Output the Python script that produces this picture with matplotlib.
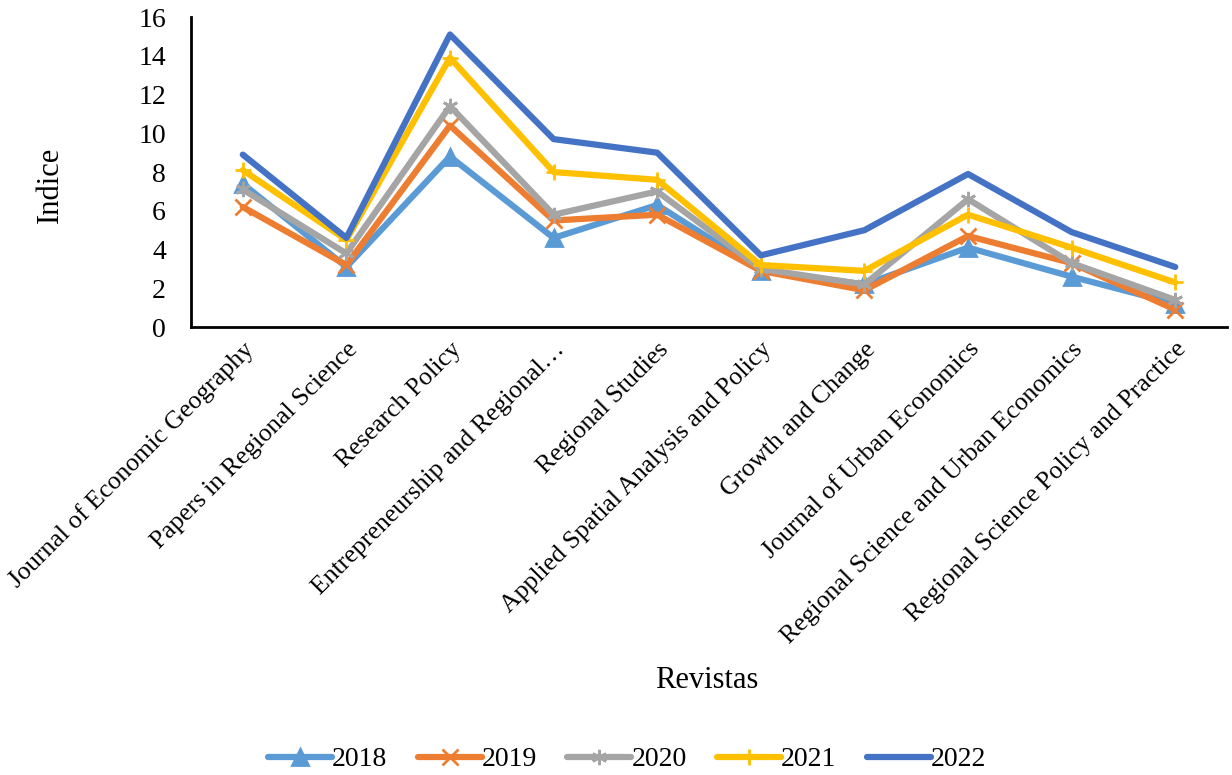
import matplotlib.pyplot as plt
import numpy as np

plt.rcParams['font.family'] = ['Liberation Serif', 'DejaVu Serif']

revistas = ["Journal of Economic Geography", "Papers in Regional Science", "Research Policy",
            "Entrepreneurship and Regional…", "Regional Studies",
            "Applied Spatial Analysis and Policy", "Growth and Change",
            "Journal of Urban Economics", "Regional Science and Urban Economics",
            "Regional Science Policy and Practice"]

v2018 = [7.4, 3.1, 8.8, 4.6, 6.3, 2.9, 2.2, 4.1, 2.6, 1.2]
v2019 = [6.2, 3.2, 10.4, 5.5, 5.8, 2.9, 1.9, 4.7, 3.3, 0.9]
v2020 = [7.1, 3.8, 11.4, 5.8, 7.0, 3.0, 2.2, 6.6, 3.3, 1.4]
v2021 = [8.1, 4.5, 13.9, 8.0, 7.6, 3.2, 2.9, 5.8, 4.1, 2.3]
v2022 = [8.9, 4.6, 15.1, 9.7, 9.0, 3.7, 5.0, 7.9, 4.9, 3.1]

series = [("2018", v2018, "#5B9BD5", "^"),
          ("2019", v2019, "#ED7D31", "x"),
          ("2020", v2020, "#A5A5A5", (6, 2, 0)),
          ("2021", v2021, "#FFC000", "+"),
          ("2022", v2022, "#4472C4", None)]

fig = plt.figure(figsize=(12.32, 7.75), dpi=100)
ax = fig.add_axes([0.155, 0.578, 0.841, 0.40])

x = np.arange(len(revistas))
for name, vals, col, mk in series:
    ax.plot(x, vals, color=col, linewidth=4.5, marker=mk, markersize=11,
            markeredgewidth=2, solid_capstyle='round', label=name)

ax.set_ylim(0, 16)
ax.set_yticks(range(0, 17, 2))
ax.set_xlim(-0.5, len(revistas) - 0.5)
ax.set_xticks(x)
ax.set_xticklabels(revistas, rotation=45, ha='right', rotation_mode='anchor')
ax.tick_params(axis='x', length=0, labelsize=18.5, pad=8)
ax.tick_params(axis='y', length=0, labelsize=20, pad=18)
for s in ['top', 'right']:
    ax.spines[s].set_visible(False)
for s in ['left', 'bottom']:
    ax.spines[s].set_linewidth(2)
    ax.spines[s].set_color('black')

ax.set_ylabel("Indice", fontsize=22)
ax.yaxis.set_label_coords(-0.122, 0.46)
fig.text(0.574, 0.122, "Revistas", fontsize=22, ha='center', va='center')
fig.legend(loc='center', bbox_to_anchor=(0.509, 0.02), ncol=5, frameon=False,
           fontsize=20, handlelength=2.3, columnspacing=1.1, handletextpad=0.0)

fig.savefig("out.png", dpi=100)
